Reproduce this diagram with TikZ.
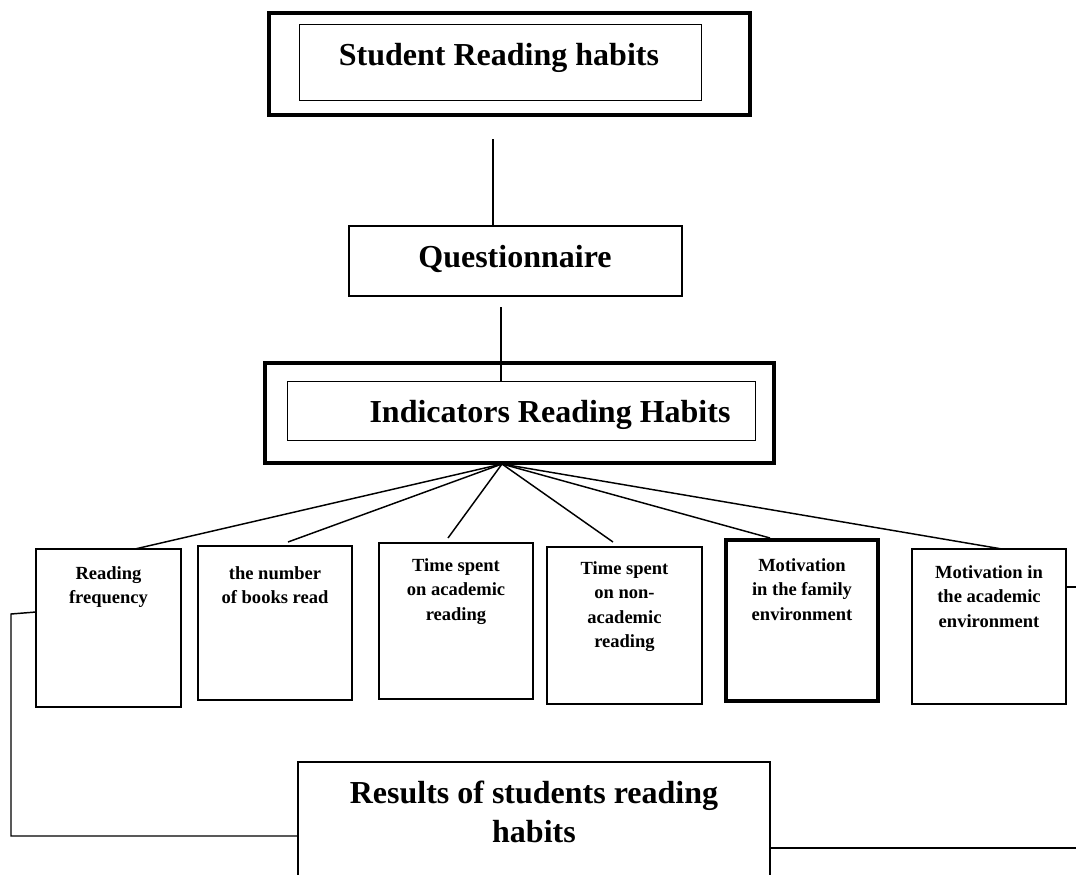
\documentclass[tikz,border=0pt]{standalone}
\usepackage{fontspec}
\setmainfont{Liberation Serif}
\usetikzlibrary{calc}
\tikzset{
  box/.style={draw=black, fill=white, inner sep=0pt, outer sep=0pt, rectangle},
  thickframe/.style={box, line width=3pt},
  thinframe/.style={box, line width=0.75pt},
  midframe/.style={box, line width=1.5pt},
  smallbox/.style={box, line width=1.5pt},
  bigtext/.style={inner sep=0pt, font=\bfseries\fontsize{24}{29.25}\selectfont, align=center},
  smalltext/.style={inner sep=0pt, anchor=north, font=\bfseries\fontsize{13.9}{18.4}\selectfont, align=center},
  link/.style={draw=black, line width=1.1pt}
}
\begin{document}
\begin{tikzpicture}[x=0.75pt, y=-0.75pt]
\clip (0,0) rectangle (1076,875);
\fill[white] (0,0) rectangle (1076,875);

% top box
\node[thickframe, minimum width=360.75pt, minimum height=76.5pt] (topout) at (509.5,64) {};
\node[thinframe, minimum width=301.5pt, minimum height=57pt] (topin) at (500,62) {};
\node[bigtext, anchor=base] (toptext) at (499,65) {Student Reading habits};

% questionnaire
\node[midframe, minimum width=249.75pt, minimum height=52.5pt] (q) at (515.5,261) {};
\node[bigtext, anchor=base] (qtext) at (515,267) {Questionnaire};

% indicators
\node[thickframe, minimum width=381.75pt, minimum height=75pt] (indout) at (519.5,413) {};
\node[thinframe, minimum width=351pt, minimum height=44.25pt] (indin) at (521,410.5) {};
\node[bigtext, anchor=base] (indtext) at (550,422) {Indicators Reading Habits};

% small boxes
\node[smallbox, minimum width=108.75pt, minimum height=118.5pt] (b1) at (108.5,628) {};
\node[smallbox, minimum width=115.5pt, minimum height=115.5pt] (b2) at (275,623) {};
\node[smallbox, minimum width=115.5pt, minimum height=117pt] (b3) at (456,621) {};
\node[smallbox, minimum width=116.25pt, minimum height=117.75pt] (b4) at (624.5,625.5) {};
\node[box, line width=3pt, minimum width=114pt, minimum height=120.75pt] (b5) at (802,620.5) {};
\node[smallbox, minimum width=115.5pt, minimum height=116.25pt] (b6) at (989,626.5) {};

\node[smalltext] (t1) at (108.5,566) {Reading\\frequency};
\node[smalltext] (t2) at (275,566) {the number\\of books read};
\node[smalltext] (t3) at (456,558) {Time spent\\on academic\\reading};
\node[smalltext] (t4) at (624.5,561) {Time spent\\on non-\\academic\\reading};
\node[smalltext] (t5) at (802,558) {Motivation\\in the family\\environment};
\node[smalltext] (t6) at (989,565) {Motivation in\\the academic\\environment};

% results
\node[midframe, minimum width=354pt, minimum height=111pt] (res) at (534,836) {};
\node[bigtext] (restext) at (534,812) {Results of students reading\\habits};

% vertical connectors
\coordinate (v1) at (493,139);
\draw[link] (v1) -- (v1 |- q.north);
\coordinate (v2) at (501,307);
\draw[link] (v2) -- (v2 |- indin.north);

% fan
\coordinate (fan) at (502,464);
\draw[link] (fan) -- ($(b1.north)+(26.5,0)$);
\draw[link] (fan) -- ($(b2.north)+(13,-4)$);
\draw[link] (fan) -- ($(b3.north)+(-8,-5)$);
\draw[link] (fan) -- ($(b4.north)+(-11.5,-5)$);
\draw[link] (fan) -- ($(b5.north)+(-32,-2)$);
\draw[link] (fan) -- ($(b6.north)+(13,0)$);

% side connectors
\coordinate (lcorner) at (11,614);
\draw[link] (b1.west |- 0,612) -- (lcorner) -- (11,836) -- (res.west |- 0,836);
\coordinate (rend) at (1076,848);
\draw[link] (res.east |- rend) -- (rend);
\coordinate (rend2) at (1076,587);
\draw[link] (b6.east |- rend2) -- (rend2);
\end{tikzpicture}
\end{document}
